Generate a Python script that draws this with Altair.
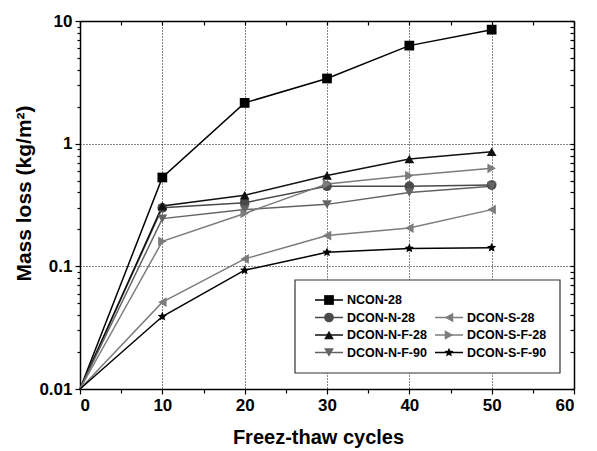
import altair as alt
import pandas as pd

# ---------------- data ----------------
cycles = [0, 10, 20, 30, 40, 50]
series_names = ["NCON-28", "DCON-N-28", "DCON-N-F-28", "DCON-N-F-90",
                "DCON-S-28", "DCON-S-F-28", "DCON-S-F-90"]
ncon_28 = [0.01, 0.53, 2.15, 3.4, 6.3, 8.5]
dcon_n_28 = [0.01, 0.30, 0.33, 0.45, 0.45, 0.46]
dcon_n_f_28 = [0.01, 0.31, 0.38, 0.55, 0.75, 0.86]
dcon_n_f_90 = [0.01, 0.245, 0.29, 0.32, 0.40, 0.45]
dcon_s_28 = [0.01, 0.051, 0.115, 0.178, 0.205, 0.29]
dcon_s_f_28 = [0.01, 0.16, 0.27, 0.47, 0.55, 0.63]
dcon_s_f_90 = [0.01, 0.039, 0.093, 0.13, 0.14, 0.142]
all_values = [ncon_28, dcon_n_28, dcon_n_f_28, dcon_n_f_90,
              dcon_s_28, dcon_s_f_28, dcon_s_f_90]

x_major = [0, 10, 20, 30, 40, 50, 60]
x_minor = [5, 15, 25, 35, 45, 55]
x_grid = [10, 20, 30, 40, 50]
y_major = [0.01, 0.1, 1, 10]
y_grid = [0.1, 1]
y_minor = [m * d for d in [0.01, 0.1, 1] for m in range(2, 10)]

# ---------------- styles ----------------
STAR = ("M0,-1L0.27,-0.37L0.951,-0.309L0.44,0.143L0.588,0.809L0,0.46"
        "L-0.588,0.809L-0.44,0.143L-0.951,-0.309L-0.27,-0.37Z")
colors = ["#000000", "#4a4a4a", "#111111", "#636363", "#7c7c7c", "#7c7c7c", "#000000"]
shapes = ["square", "circle", "triangle-up", "triangle-down",
          "triangle-left", "triangle-right", STAR]
sizes = [95, 95, 120, 110, 110, 110, 190]

# legend layout (column / row of each entry)
legend_col = [0, 0, 0, 0, 1, 1, 1]
legend_row = [0, 1, 2, 3, 1, 2, 3]

W, H = 494, 368
FONT = "Liberation Sans"

rows = []
for name, vals in zip(series_names, all_values):
    for c, v in zip(cycles, vals):
        rows.append({"series": name, "cycles": c, "loss": v})
df = pd.DataFrame(rows)

leg = pd.DataFrame({
    "series": series_names,
    "col": legend_col,
    "row": legend_row,
})
leg["lx1"] = 235 + leg["col"] * 120
leg["lx2"] = leg["lx1"] + 28
leg["sx"] = leg["lx1"] + 14
leg["tx"] = leg["lx2"] + 4
leg["ly"] = 279 + leg["row"] * 17.5

xscale = alt.Scale(domain=[0, 60], nice=False, zero=False)
yscale = alt.Scale(type="log", domain=[0.01, 10], nice=False)
cscale = alt.Scale(domain=series_names, range=colors)
sscale = alt.Scale(domain=series_names, range=shapes)
zscale = alt.Scale(domain=series_names, range=sizes)

base = alt.Chart(df)

def ax(**kw):
    d = dict(domain=False, labels=False, ticks=False, grid=False, title=None)
    d.update(kw)
    return alt.Axis(**d)

# main lines with main axes
lines = base.mark_line(strokeWidth=1.5).encode(
    x=alt.X("cycles:Q", scale=xscale, title="Freez-thaw cycles",
            axis=alt.Axis(orient="bottom", values=x_major, format="d", grid=False,
                          domain=True, domainColor="black", domainWidth=1.5,
                          ticks=True, tickSize=5, tickColor="black", tickWidth=1.2,
                          labelFont=FONT, labelFontSize=17, labelFontWeight="bold",
                          labelColor="black", labelPadding=3,
                          titleFont=FONT, titleFontSize=20, titleFontWeight="bold",
                          titleColor="black", titlePadding=14, titleX=238)),
    y=alt.Y("loss:Q", scale=yscale, title="Mass loss (kg/m²)",
            axis=alt.Axis(orient="left", values=y_major, format="~g", grid=False,
                          domain=True, domainColor="black", domainWidth=1.5,
                          ticks=True, tickSize=5, tickColor="black", tickWidth=1.2,
                          labelFont=FONT, labelFontSize=17, labelFontWeight="bold",
                          labelColor="black", labelPadding=3,
                          titleFont=FONT, titleFontSize=21, titleFontWeight="bold",
                          titleColor="black", titlePadding=4, titleY=172)),
    color=alt.Color("series:N", scale=cscale, legend=None),
    order=alt.Order("cycles:Q"),
)

points = base.mark_point(filled=True, opacity=1).encode(
    x=alt.X("cycles:Q", scale=xscale, axis=None),
    y=alt.Y("loss:Q", scale=yscale, axis=None),
    color=alt.Color("series:N", scale=cscale, legend=None),
    shape=alt.Shape("series:N", scale=sscale, legend=None),
    size=alt.Size("series:N", scale=zscale, legend=None),
).transform_filter("datum.cycles > 0")

invis = base.mark_point(opacity=0)

grid = invis.encode(
    x=alt.X("cycles:Q", scale=xscale,
            axis=ax(orient="bottom", values=x_grid, grid=True, gridDash=[1, 2],
                    gridColor="#111111", gridWidth=1, gridOpacity=1)),
    y=alt.Y("loss:Q", scale=yscale,
            axis=ax(orient="left", values=y_grid, grid=True, gridDash=[1, 2],
                    gridColor="#111111", gridWidth=1, gridOpacity=1)),
)

minor = invis.encode(
    x=alt.X("cycles:Q", scale=xscale,
            axis=ax(orient="bottom", values=x_minor, ticks=True, tickSize=4,
                    tickColor="black", tickWidth=1.2)),
    y=alt.Y("loss:Q", scale=yscale,
            axis=ax(orient="left", values=y_minor, ticks=True, tickSize=3,
                    tickColor="black", tickWidth=1.2)),
)

mirror = invis.encode(
    x=alt.X("cycles:Q", scale=xscale,
            axis=ax(orient="bottom", offset=-H, values=x_major + x_minor,
                    ticks=True, tickSize=4, tickColor="black", tickWidth=1.2,
                    domain=True, domainColor="black", domainWidth=1.5)),
    y=alt.Y("loss:Q", scale=yscale,
            axis=ax(orient="left", offset=-W, values=y_major + y_minor,
                    ticks=True, tickSize=4, tickColor="black", tickWidth=1.2,
                    domain=True, domainColor="black", domainWidth=1.5)),
)

# legend box and entries
box = alt.Chart(pd.DataFrame({"a": [0]})).mark_rect(
    fill="white", stroke="#333333", strokeWidth=1.2
).encode(x=alt.value(215), x2=alt.value(480), y=alt.value(259), y2=alt.value(352))

legc = alt.Chart(leg)
leg_lines = legc.mark_rule(strokeWidth=1.5).encode(
    x=alt.X("lx1:Q", scale=None, axis=None), x2="lx2:Q",
    y=alt.Y("ly:Q", scale=None, axis=None),
    color=alt.Color("series:N", scale=cscale, legend=None),
)
leg_pts = legc.mark_point(filled=True, opacity=1).encode(
    x=alt.X("sx:Q", scale=None, axis=None),
    y=alt.Y("ly:Q", scale=None, axis=None),
    color=alt.Color("series:N", scale=cscale, legend=None),
    shape=alt.Shape("series:N", scale=sscale, legend=None),
    size=alt.Size("series:N", scale=zscale, legend=None),
)
leg_txt = legc.mark_text(align="left", baseline="middle", font=FONT,
                         fontSize=12.5, fontWeight="bold", color="black").encode(
    x=alt.X("tx:Q", scale=None, axis=None),
    y=alt.Y("ly:Q", scale=None, axis=None),
    text="series:N",
)

chart = alt.layer(
    grid, minor, mirror, lines, points, box, leg_lines, leg_pts, leg_txt
).resolve_axis(x="independent", y="independent").properties(
    width=W, height=H,
    autosize=alt.AutoSizeParams(type="none"),
    padding={"left": 72, "top": 13, "right": 15, "bottom": 62},
    background="white",
).configure_view(stroke=None)

chart.save("out.html", embed_options={"renderer": "svg", "actions": False})
